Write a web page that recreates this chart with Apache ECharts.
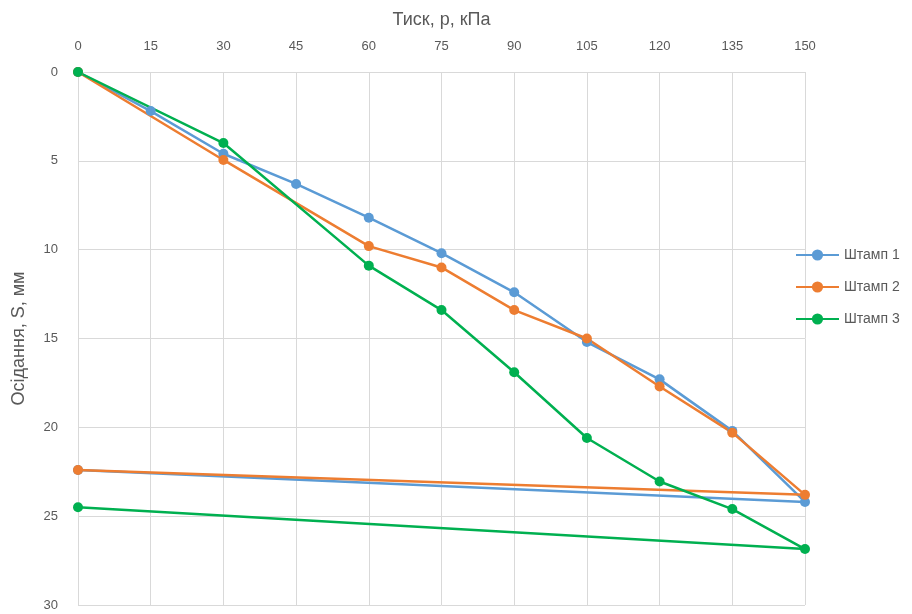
<!DOCTYPE html>
<html><head><meta charset="utf-8">
<script src="https://cdn.jsdelivr.net/npm/echarts@6/dist/echarts.min.js"></script>
<style>html,body{margin:0;padding:0;background:#fff}#c{width:912px;height:614px}</style>
</head><body><div id="c"></div>
<script>
const pressure = [0, 15, 30, 45, 60, 75, 90, 105, 120, 135, 150, 0];
const stamp1 = [0, 2.2, 4.6, 6.3, 8.2, 10.2, 12.4, 15.2, 17.3, 20.2, 24.2, 22.4];
const stamp2 = [0, null, 4.95, null, 9.8, 11.0, 13.4, 15.0, 17.7, 20.3, 23.8, 22.4];
const stamp3 = [0, null, 4.0, null, 10.9, 13.4, 16.9, 20.6, 23.05, 24.6, 26.85, 24.5];
const names = ['Штамп 1', 'Штамп 2', 'Штамп 3'];
const colors = ['#5B9BD5', '#ED7D31', '#00B050'];
const xTicks = [0, 15, 30, 45, 60, 75, 90, 105, 120, 135, 150];
const yTicks = [0, 5, 10, 15, 20, 25, 30];

function pairs(vals){ const out=[]; vals.forEach((v,i)=>{ if(v!==null) out.push([pressure[i], v]); }); return out; }
const font = 'Liberation Sans, Arial, sans-serif';
const chart = echarts.init(document.getElementById('c'));
chart.setOption({
  animation: false,
  grid: {left: 78, right: 107, top: 72, bottom: 9, containLabel: false},
  legend: {
    orient: 'vertical', left: 790, top: 243, itemGap: 18,
    itemWidth: 43, itemHeight: 14,
    textStyle: {color: '#595959', fontSize: 14, fontFamily: font},
    data: names
  },
  xAxis: {
    type: 'value', position: 'top', min: 0, max: 150, interval: 15,
    name: 'Тиск, р, кПа', nameLocation: 'middle', nameGap: 43,
    nameTextStyle: {color: '#595959', fontSize: 18, fontFamily: font},
    axisLine: {show: false}, axisTick: {show: false},
    axisLabel: {color: '#595959', fontSize: 13, fontFamily: font, margin: 19},
    splitLine: {show: true, lineStyle: {color: '#d9d9d9', width: 1}}
  },
  yAxis: {
    type: 'value', inverse: true, min: 0, max: 30, interval: 5,
    name: 'Осідання, S, мм', nameLocation: 'middle', nameGap: 50, nameRotate: 90,
    nameTextStyle: {color: '#595959', fontSize: 18, fontFamily: font},
    axisLine: {show: false}, axisTick: {show: false},
    axisLabel: {color: '#595959', fontSize: 13, fontFamily: font, margin: 20},
    splitLine: {show: true, lineStyle: {color: '#d9d9d9', width: 1}}
  },
  series: [stamp1, stamp2, stamp3].map((s, i) => ({
    name: names[i], type: 'line', data: pairs(s),
    symbol: 'circle', symbolSize: 10, connectNulls: true,
    lineStyle: {color: colors[i], width: 2.5},
    itemStyle: {color: colors[i]}
  }))
});
</script></body></html>
